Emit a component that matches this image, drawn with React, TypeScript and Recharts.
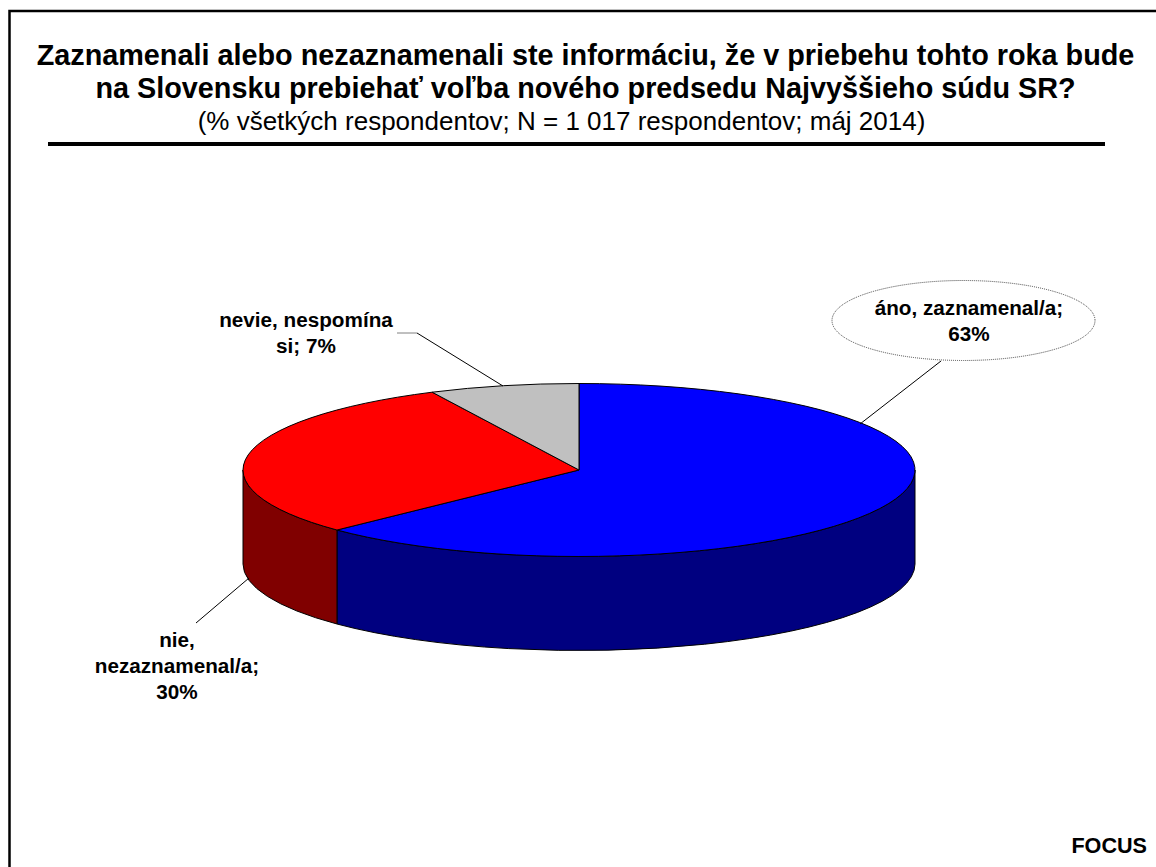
import React from 'react';
import { PieChart, Pie, Cell } from 'recharts';

const CATEGORIES = ['áno, zaznamenal/a', 'nie, nezaznamenal/a', 'nevie, nespomína si'];
const VALUES = [62.8, 30, 7.2];
const TOP_COLORS = ['#0000FF', '#FF0000', '#C0C0C0'];
const SIDE_COLORS = ['#000080', '#800000', '#808080'];
// last line gets the rounded value appended
const LABEL_LINES = [['áno, zaznamenal/a;', ''], ['nie,', 'nezaznamenal/a;', ''], ['nevie, nespomína', 'si; ']];

const WIDTH = 1156;
const HEIGHT = 867;
const RX = 336;
const RY = 86.5;
const DEPTH = 94;
const FONT = '"Liberation Sans", Arial, sans-serif';

const chartData = CATEGORIES.map((name, i) => ({ name, value: VALUES[i], side: SIDE_COLORS[i], lines: LABEL_LINES[i] }));

// where each label sits and how its leader runs
const LABEL_LAYOUT = [
  { x: 969, y: 315, leader: 'M941 361L860 424' },
  { x: 177, y: 647, leader: 'M196 623L249 578' },
  { x: 306, y: 327, leader: 'M417 333L503 386' },
];

// flatten the round pie into an ellipse
const SlicedEllipse = (props: any) => {
  const { cx, cy, startAngle, endAngle, fill, payload } = props;
  const pt = (deg: number, dy = 0) => {
    const r = (deg * Math.PI) / 180;
    return `${cx + RX * Math.cos(r)} ${cy - RY * Math.sin(r) + dy}`;
  };
  const hi = Math.min(startAngle, 0);
  const lo = Math.max(endAngle, -180);
  const large = startAngle - endAngle > 180 ? 1 : 0;
  return (
    <g>
      {hi > lo && (
        <path
          d={`M${pt(hi)}A${RX} ${RY} 0 0 1 ${pt(lo)}L${pt(lo, DEPTH)}A${RX} ${RY} 0 0 0 ${pt(hi, DEPTH)}Z`}
          fill={payload.side}
          stroke="#000"
          strokeWidth={1}
        />
      )}
      <path
        d={`M${cx} ${cy}L${pt(startAngle)}A${RX} ${RY} 0 ${large} 1 ${pt(endAngle)}Z`}
        fill={fill}
        stroke="#000"
        strokeWidth={1}
      />
    </g>
  );
};

const renderLabel = ({ index, value, payload }: any) => {
  const spot = LABEL_LAYOUT[index];
  const lines: string[] = payload.lines ?? LABEL_LINES[index];
  return (
    <g>
      {index === 0 && <ellipse cx={963.5} cy={320.5} rx={131.5} ry={40} fill="#fff" stroke="#444" strokeWidth={1} strokeDasharray="1 1" />}
      {index === 2 && <path d="M397 333H417" stroke="#808080" strokeWidth={1} fill="none" />}
      <path d={spot.leader} stroke="#000" strokeWidth={1} fill="none" />
      {lines.map((line, i) => (
        <text key={i} x={spot.x} y={spot.y + i * 26} textAnchor="middle" fontFamily={FONT} fontWeight="bold" fontSize={20.7} fill="#000">
          {i === lines.length - 1 ? `${line}${Math.round(value)}%` : line}
        </text>
      ))}
    </g>
  );
};

const App = () => (
  <div style={{ position: 'absolute', left: 0, top: 0, width: WIDTH, height: HEIGHT, background: '#fff' }}>
    <PieChart width={WIDTH} height={HEIGHT} margin={{ top: 0, right: 0, bottom: 0, left: 0 }}>
      <path d="M9.5 867V11H1156" stroke="#000" strokeWidth={2.5} fill="none" />
      <text x={585.5} y={65} textAnchor="middle" fontFamily={FONT} fontWeight="bold" fontSize={28.8} fill="#000">
        Zaznamenali alebo nezaznamenali ste informáciu, že v priebehu tohto roka bude
      </text>
      <text x={585.5} y={98} textAnchor="middle" fontFamily={FONT} fontWeight="bold" fontSize={28.8} fill="#000">
        na Slovensku prebiehať voľba nového predsedu Najvyššieho súdu SR?
      </text>
      <text x={561.5} y={130} textAnchor="middle" fontFamily={FONT} fontSize={26} fill="#000">
        (% všetkých respondentov; N = 1 017 respondentov; máj 2014)
      </text>
      <rect x={48} y={142} width={1057} height={4} fill="#000" />
      <Pie
        data={chartData}
        dataKey="value"
        nameKey="name"
        cx={579}
        cy={470}
        innerRadius={0}
        outerRadius={RX}
        startAngle={90}
        endAngle={-270}
        paddingAngle={0}
        shape={SlicedEllipse}
        label={renderLabel}
        labelLine={false}
        isAnimationActive={false}
      >
        {chartData.map((d, i) => (
          <Cell key={d.name} fill={TOP_COLORS[i]} />
        ))}
      </Pie>
      <text x={1147} y={853} textAnchor="end" fontFamily={FONT} fontWeight="bold" fontSize={21.6} fill="#000">
        FOCUS
      </text>
    </PieChart>
  </div>
);

export default App;
